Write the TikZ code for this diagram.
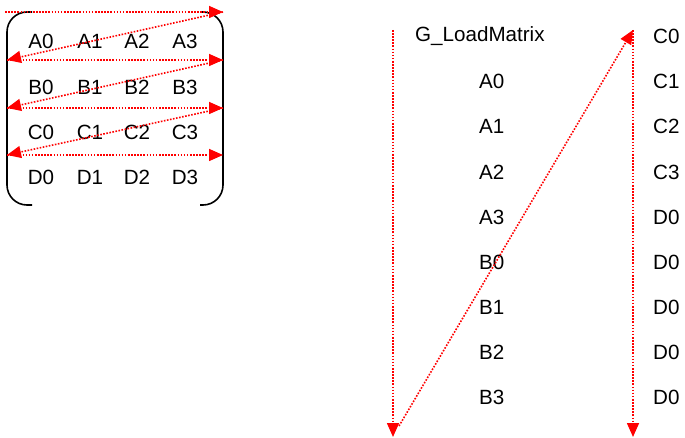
\documentclass[tikz,border=0pt]{standalone}
\usepackage{fontspec}
\setmainfont{Liberation Sans}
\usetikzlibrary{arrows.meta}
\begin{document}
\begin{tikzpicture}[x=1pt,y=-1pt,
  lbl/.style={inner sep=0pt,font=\fontsize{20.6}{24}\selectfont},
  scan/.style={red,line width=1.6pt,dash pattern=on 1.6pt off 1.5pt,
    -{Triangle[length=14pt,width=12pt]}},
  brack/.style={black,line width=1.6pt,rounded corners=20pt}]
\useasboundingbox (0,0) rectangle (685,438);

% matrix entries
\foreach \r/\y in {A/41,B/87,C/132,D/177}{
  \foreach \c/\x in {0/41,1/90,2/137,3/185}{
    \node[lbl] (m\r\c) at (\x,\y) {\r\c};
  }
}
% brackets
\draw[brack] (32,12) -- (7,12) -- (7,205) -- (32,205);
\draw[brack] (200,12) -- (223,12) -- (223,205) -- (200,205);

% row-order scan path
\coordinate (s0) at (5,12);
\coordinate (r0) at (223,12);
\coordinate (l1) at (7,60);
\coordinate (r1) at (223,60);
\coordinate (l2) at (7,108);
\coordinate (r2) at (223,108);
\coordinate (l3) at (7,155);
\coordinate (r3) at (223,155);
\draw[scan] (s0) -- (r0);
\draw[scan] (r0) -- (l1);
\draw[scan] (l1) -- (r1);
\draw[scan] (r1) -- (l2);
\draw[scan] (l2) -- (r2);
\draw[scan] (r2) -- (l3);
\draw[scan] (l3) -- (r3);

% linear memory layout
\node[lbl,anchor=west] (gl) at (415,36) {G\_LoadMatrix};
\foreach \t/\y/\n in {A0/81/1,A1/126/2,A2/172/3,A3/217/4,B0/262/5,B1/307/6,B2/352/7,B3/397/8}{
  \node[lbl,anchor=west] (p\n) at (479,\y) {\t};
}
\foreach \t/\y/\n in {C0/36/0,C1/81/1,C2/126/2,C3/172/3,D0/217/4,D0/262/5,D0/307/6,D0/352/7,D0/397/8}{
  \node[lbl,anchor=west] (q\n) at (653,\y) {\t};
}
\coordinate (ltop) at (393,30);
\coordinate (lbot) at (393,437);
\coordinate (rtop) at (633,30);
\coordinate (rbot) at (633,437);
\coordinate (dstart) at (399,426);
\draw[scan] (ltop) -- (lbot);
\draw[scan] (rtop) -- (rbot);
\draw[scan] (dstart) -- (rtop);
\end{tikzpicture}
\end{document}
